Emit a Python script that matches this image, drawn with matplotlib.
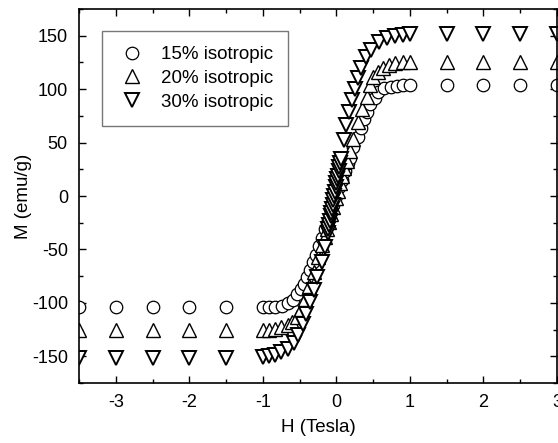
import numpy as np
import matplotlib.pyplot as plt
from matplotlib.ticker import MultipleLocator

plt.rcParams["font.family"] = ["Liberation Sans", "DejaVu Sans"]
plt.rcParams["axes.unicode_minus"] = False

# 15% isotropic (circles)
H15 = [-3.5, -3, -2.5, -2, -1.5, -1.0, -0.92, -0.83, -0.74, -0.66, -0.59, -0.53,
       -0.48, -0.44, -0.40, -0.36, -0.32, -0.28, -0.24, -0.20, -0.16, -0.12, -0.08,
       -0.04, 0.0, 0.04, 0.08, 0.12, 0.16, 0.19, 0.23, 0.29, 0.33, 0.37, 0.42, 0.46,
       0.52, 0.57, 0.65, 0.74, 0.82, 0.9, 1.0, 1.5, 2, 2.5, 3]
M15 = [-104, -104, -104, -104, -104, -104, -104, -104, -103, -100, -97, -92,
       -87, -82, -76, -69, -62, -55, -47, -39, -31, -23, -15,
       -8, 0, 8, 15, 23, 31, 36, 46, 55, 64, 72, 79, 86,
       92, 97, 101, 102, 103, 104, 104, 104, 104, 104, 104]

# 20% isotropic (up triangles)
H20 = [-3.5, -3, -2.5, -2, -1.5, -1.0, -0.92, -0.83, -0.75, -0.66, -0.6, -0.53,
       -0.48, -0.43, -0.37, -0.31, -0.25, -0.2, -0.16, -0.13, -0.10, -0.07, -0.04,
       -0.01, 0.02, 0.05, 0.08, 0.11, 0.14, 0.18, 0.23, 0.29, 0.35, 0.41, 0.46,
       0.5, 0.57, 0.64, 0.71, 0.8, 0.9, 1.0, 1.5, 2, 2.5, 3]
M20 = [-125, -125, -125, -125, -125, -125, -125, -124, -123, -121, -118, -113,
       -106, -96, -84, -71, -57, -46, -38, -31, -24, -17, -10,
       -2, 5, 12, 19, 26, 33, 42, 53, 69, 81, 93, 104,
       111, 116, 120, 123, 124, 125, 125, 125, 125, 125, 125]

# 30% isotropic (down triangles)
H30 = [-3.5, -3, -2.5, -2, -1.5, -1.0, -0.92, -0.84, -0.75, -0.66, -0.58, -0.52,
       -0.46, -0.41, -0.36, -0.31, -0.26, -0.2, -0.15, -0.12, -0.11, -0.10, -0.09,
       -0.08, -0.07, -0.06, -0.05, -0.04, -0.03, -0.02, -0.01, 0.0, 0.01, 0.02,
       0.03, 0.04, 0.05, 0.06, 0.1, 0.13, 0.17, 0.21, 0.25, 0.29, 0.34, 0.4,
       0.47, 0.58, 0.69, 0.8, 0.9, 1.0, 1.5, 2, 2.5, 3]
M30 = [-152, -152, -152, -152, -152, -151, -150, -149, -146, -143, -138, -130,
       -120, -110, -99, -88, -76, -62, -48, -35, -31, -27, -23,
       -19, -16, -12, -8, -4, 0, 4, 8, 12, 16, 19,
       23, 27, 31, 35, 52, 66, 79, 90, 100, 110, 120, 130,
       137, 144, 148, 150, 151, 152, 152, 152, 152, 152]

labels = ["15% isotropic", "20% isotropic", "30% isotropic"]

fig = plt.figure(figsize=(5.58, 4.43), dpi=100)
ax = fig.add_axes([0.1416, 0.1354, 0.8566, 0.8443])

style = dict(linestyle="none", markerfacecolor="white", markeredgecolor="black")
ax.plot(H15, M15, marker="o", markersize=9, markeredgewidth=0.9,
        label=labels[0], **style)
ax.plot(H20, M20, marker="^", markersize=9.5, markeredgewidth=1.0,
        label=labels[1], **style)
ax.plot(H30, M30, marker="v", markersize=10, markeredgewidth=1.4,
        label=labels[2], **style)

ax.set_xlim(-3.5, 3.0)
ax.set_ylim(-175, 175)
ax.xaxis.set_major_locator(MultipleLocator(1))
ax.xaxis.set_minor_locator(MultipleLocator(0.5))
ax.yaxis.set_major_locator(MultipleLocator(50))
ax.yaxis.set_minor_locator(MultipleLocator(25))
ax.tick_params(which="both", direction="in", top=True, right=True,
               labelsize=13, width=1.0)
ax.tick_params(which="major", length=5, pad=8)
ax.tick_params(which="minor", length=3)
for sp in ax.spines.values():
    sp.set_linewidth(1.2)

ax.set_xlabel("H (Tesla)", fontsize=13.5, labelpad=6)
ax.set_ylabel("M (emu/g)", fontsize=13.5, labelpad=0)

leg = ax.legend(loc="upper left", bbox_to_anchor=(0.048, 0.941), borderaxespad=0,
                fancybox=False, edgecolor="#555555", fontsize=13.5,
                handletextpad=0.75, labelspacing=0.36, borderpad=0.8,
                handlelength=1.6)
leg.get_frame().set_linewidth(1.0)

fig.savefig("out.png", dpi=100)
